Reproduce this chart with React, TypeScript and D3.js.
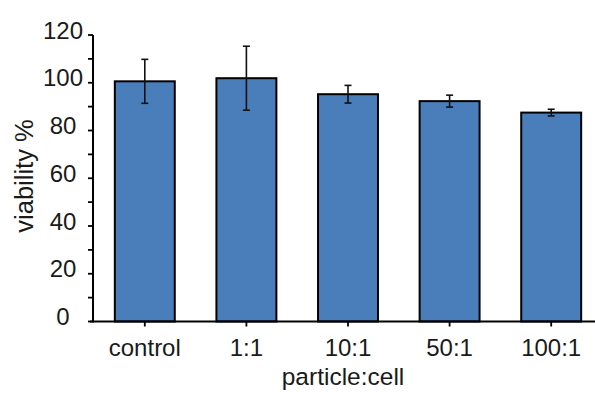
import React from "react";
import * as d3 from "d3";

const categories = ["control", "1:1", "10:1", "50:1", "100:1"];
const viability = [100.6, 101.9, 95.2, 92.3, 87.5];
const errors = [9.2, 13.4, 3.7, 2.5, 1.4];
const yTicks = [0, 20, 40, 60, 80, 100, 120];
const yMinorTicks = [10, 30, 50, 70, 90, 110];

const W = 595;
const H = 394;
const font = "'Liberation Sans', Arial, sans-serif";

const App = () => {
  const x = d3
    .scaleBand()
    .domain(categories)
    .range([94, 602])
    .paddingInner(0.41)
    .paddingOuter(0.205);
  const y = d3.scaleLinear().domain([0, 120]).range([321.5, 35]);
  const x0 = 93;
  const cap = 3.5;

  return (
    <svg
      width={W}
      height={H}
      style={{ position: "absolute", left: 0, top: 0, background: "#fff" }}
      fontFamily={font}
    >
      {/* bars */}
      {categories.map((c, i) => (
        <rect
          key={c}
          x={x(c)}
          y={y(viability[i])}
          width={x.bandwidth()}
          height={y(0) - y(viability[i])}
          fill="#4a7ebb"
          stroke="#000"
          strokeWidth={2}
        />
      ))}
      {/* error bars */}
      {categories.map((c, i) => {
        const cx = x(c) + x.bandwidth() / 2;
        const hi = y(viability[i] + errors[i]);
        const lo = y(viability[i] - errors[i]);
        return (
          <g key={c} stroke="#111" strokeWidth={1.6}>
            <line x1={cx} x2={cx} y1={hi} y2={lo} />
            <line x1={cx - cap} x2={cx + cap} y1={hi} y2={hi} />
            <line x1={cx - cap} x2={cx + cap} y1={lo} y2={lo} />
          </g>
        );
      })}
      {/* y axis */}
      <line x1={x0} x2={x0} y1={y(120)} y2={y(0) + 1} stroke="#000" strokeWidth={2} />
      {yTicks.concat(yMinorTicks).map((t) => (
        <line key={t} x1={x0 - 5} x2={x0} y1={y(t)} y2={y(t)} stroke="#000" strokeWidth={1.8} />
      ))}
      {yTicks.map((t) => (
        <text
          key={t}
          x={63}
          y={y(t) - 5}
          dy="0.36em"
          textAnchor="middle"
          fontSize={24}
          fill="#1a1a1a"
        >
          {t}
        </text>
      ))}
      {/* x axis */}
      <line x1={x0 - 3} x2={602} y1={y(0)} y2={y(0)} stroke="#000" strokeWidth={2} />
      {categories.map((c) => {
        const cx = x(c) + x.bandwidth() / 2;
        return (
          <g key={c}>
            <line x1={cx} x2={cx} y1={y(0)} y2={y(0) + 5} stroke="#000" strokeWidth={1.8} />
            <text x={cx} y={356} textAnchor="middle" fontSize={24} fill="#1a1a1a">
              {c}
            </text>
          </g>
        );
      })}
      <text x={343} y={385} textAnchor="middle" fontSize={24.5} fill="#1a1a1a">
        particle:cell
      </text>
      <text
        transform={`translate(33,176) rotate(-90)`}
        textAnchor="middle"
        fontSize={25.5}
        fill="#1a1a1a"
      >
        viability %
      </text>
    </svg>
  );
};

export default App;
